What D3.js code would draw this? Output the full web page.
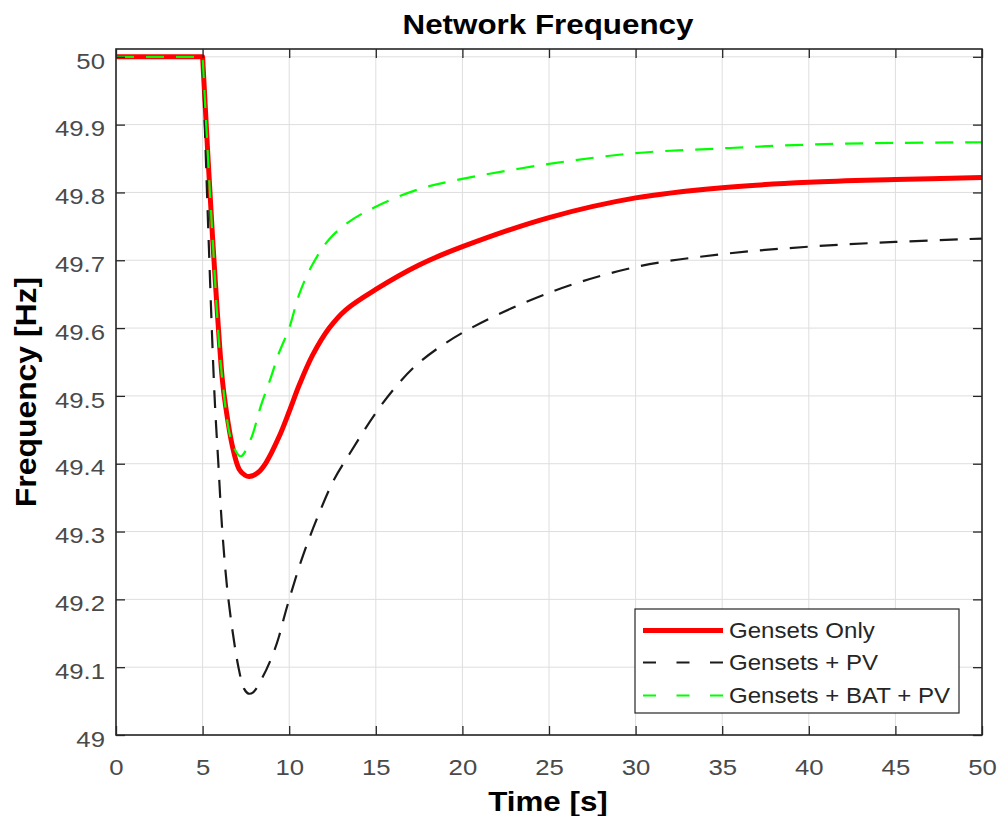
<!DOCTYPE html>
<html>
<head>
<meta charset="utf-8">
<script src="https://cdn.jsdelivr.net/npm/d3@7"></script>
<style>
  body { margin: 0; background: #fff; }
  text { font-family: "Liberation Sans", Arial, Helvetica, sans-serif; }
</style>
</head>
<body>
<div id="chart"></div>
<script>
// series
const timeOnly = [0, 5, 5.57, 6.14, 6.34, 6.72, 7.11, 7.45, 7.69, 8.2, 8.65, 9.42, 10, 10.58, 11.35, 12.31, 13.27, 15, 17.5, 20, 25, 30, 35, 40, 45, 50];
const freqOnly = [50, 50, 49.736, 49.524, 49.483, 49.426, 49.392, 49.383, 49.381, 49.387, 49.401, 49.44, 49.477, 49.516, 49.56, 49.6, 49.627, 49.657, 49.693, 49.72, 49.763, 49.792, 49.807, 49.815, 49.819, 49.822];

const timePV = [0, 5, 5.34, 5.69, 5.91, 6.14, 6.49, 7.07, 7.4, 7.65, 7.92, 8.46, 9.03, 9.42, 9.71, 10, 10.8, 11.73, 12.6, 13.47, 15, 16.17, 17.5, 20, 25, 30, 35, 40, 45, 50];
const freqPV = [50, 50, 49.736, 49.5, 49.4, 49.3, 49.2, 49.1, 49.068, 49.061, 49.063, 49.085, 49.117, 49.146, 49.174, 49.2, 49.265, 49.327, 49.377, 49.414, 49.475, 49.514, 49.549, 49.593, 49.652, 49.69, 49.709, 49.72, 49.727, 49.732];

const timeBAT = [0, 5, 5.57, 6.14, 6.72, 7.2, 7.78, 8.36, 8.94, 9.42, 10, 10.58, 11.35, 12.31, 13.47, 15, 17.5, 20, 25, 30, 35, 40, 45, 50];
const freqBAT = [50, 50, 49.736, 49.524, 49.43, 49.411, 49.436, 49.485, 49.527, 49.564, 49.6, 49.65, 49.694, 49.731, 49.757, 49.779, 49.805, 49.82, 49.842, 49.858, 49.865, 49.8705, 49.873, 49.874];

const seriesNames = ["Gensets Only", "Gensets + PV", "Gensets + BAT + PV"];
const stepTime = 5; // the disturbance: curves are flat before it
const xTicks = [0, 5, 10, 15, 20, 25, 30, 35, 40, 45, 50];
const yTicks = [49, 49.1, 49.2, 49.3, 49.4, 49.5, 49.6, 49.7, 49.8, 49.9, 50];
const yTickLabels = ["49", "49.1", "49.2", "49.3", "49.4", "49.5", "49.6", "49.7", "49.8", "49.9", "50"];

const W = 999, H = 816;
const SX = 1.12; // the reference text runs a bit wider than Arial
const box = { left: 116, right: 982, top: 49, bottom: 735 };
const axisColor = "#262626";

const svg = d3.select("#chart").append("svg")
  .attr("width", W)
  .attr("height", H);

svg.append("rect").attr("width", W).attr("height", H).attr("fill", "#fff");

const x = d3.scaleLinear().domain([0, 50]).range([box.left, box.right]);
const y = d3.scaleLinear().domain([49, 50.0115]).range([box.bottom, box.top]);

// grid
const grid = svg.append("g").attr("stroke", "#dedede").attr("stroke-width", 1);
grid.selectAll(".gx").data(xTicks).enter().append("line")
  .attr("x1", d => x(d)).attr("x2", d => x(d))
  .attr("y1", box.top).attr("y2", box.bottom);
grid.selectAll(".gy").data(yTicks).enter().append("line")
  .attr("x1", box.left).attr("x2", box.right)
  .attr("y1", d => y(d)).attr("y2", d => y(d));

// curves
const series = [
  { t: timeOnly, f: freqOnly, color: "#ff0000", width: 5, dash: null, legendDash: null },
  { t: timePV, f: freqPV, color: "#1a1a1a", width: 2.2, dash: "18,12", legendDash: "13,20.5" },
  { t: timeBAT, f: freqBAT, color: "#00ff00", width: 2.2, dash: "18,12", legendDash: "13,20.5" },
];

const lineFlat = d3.line().x(d => x(d[0])).y(d => y(d[1]));
const lineSmooth = d3.line().x(d => x(d[0])).y(d => y(d[1])).curve(d3.curveCatmullRom.alpha(0.5));

// straight before the step, smooth after it, as one subpath so dashes run on
function curvePath(pts) {
  const before = pts.filter(p => p[0] <= stepTime);
  const after = pts.filter(p => p[0] >= stepTime);
  return lineFlat(before) + "L" + lineSmooth(after).slice(1);
}

const plot = svg.append("g");
series.forEach(s => {
  plot.append("path")
    .attr("d", curvePath(d3.zip(s.t, s.f)))
    .attr("fill", "none")
    .attr("stroke", s.color)
    .attr("stroke-width", s.width)
    .attr("stroke-linejoin", "round")
    .attr("stroke-dasharray", s.dash);
});

// axes (ticks point inward on all four sides)
const xAxisBottom = svg.append("g")
  .attr("transform", "translate(0," + box.bottom + ")")
  .call(d3.axisBottom(x).tickValues(xTicks).tickSizeInner(-9).tickSizeOuter(0));
xAxisBottom.selectAll("text")
  .attr("y", 0).attr("dy", null)
  .attr("transform", "translate(0,40) scale(" + SX + ",1)");

const yAxisLeft = svg.append("g")
  .attr("transform", "translate(" + box.left + ",0)")
  .call(d3.axisLeft(y).tickValues(yTicks).tickFormat((d, i) => yTickLabels[i]).tickSizeInner(-9).tickSizeOuter(0));
yAxisLeft.selectAll("text")
  .attr("x", 0).attr("dy", "0.49em")
  .attr("transform", "translate(-11,0) scale(" + SX + ",1)");

svg.append("g")
  .attr("transform", "translate(0," + box.top + ")")
  .call(d3.axisTop(x).tickValues(xTicks).tickSizeInner(-9).tickSizeOuter(0).tickFormat(""));
svg.append("g")
  .attr("transform", "translate(" + box.right + ",0)")
  .call(d3.axisRight(y).tickValues(yTicks).tickSizeInner(-9).tickSizeOuter(0).tickFormat(""));

svg.selectAll(".domain").remove();
svg.selectAll(".tick line").attr("stroke", axisColor).attr("stroke-width", 1.3);
svg.selectAll(".tick text")
  .attr("fill", "#4a4a4a")
  .style("font-size", "23px")
  .style("font-family", "'Liberation Sans', Arial, sans-serif");

svg.append("rect")
  .attr("x", box.left).attr("y", box.top)
  .attr("width", box.right - box.left).attr("height", box.bottom - box.top)
  .attr("fill", "none")
  .attr("stroke", axisColor)
  .attr("stroke-width", 1.6);

// title and axis labels
svg.append("text")
  .attr("transform", "translate(548,34) scale(" + SX + ",1)")
  .attr("text-anchor", "middle")
  .style("font-size", "28px").style("font-weight", "bold")
  .attr("fill", "#000")
  .text("Network Frequency");

svg.append("text")
  .attr("transform", "translate(548,811) scale(" + SX + ",1)")
  .attr("text-anchor", "middle")
  .style("font-size", "28px").style("font-weight", "bold")
  .attr("fill", "#000")
  .text("Time [s]");

svg.append("text")
  .attr("transform", "translate(36,392) rotate(-90) scale(1.1,1)")
  .attr("text-anchor", "middle")
  .style("font-size", "29px").style("font-weight", "bold")
  .attr("fill", "#000")
  .text("Frequency [Hz]");

// legend
const legend = svg.append("g").attr("transform", "translate(635,609)");
legend.append("rect")
  .attr("width", 324).attr("height", 104)
  .attr("fill", "#fff")
  .attr("stroke", axisColor).attr("stroke-width", 1.2);

const rowY = [29, 61, 94];
series.forEach((s, i) => {
  legend.append("line")
    .attr("x1", 8).attr("x2", 88)
    .attr("y1", rowY[i] - 7.5).attr("y2", rowY[i] - 7.5)
    .attr("stroke", s.color)
    .attr("stroke-width", s.width)
    .attr("stroke-dasharray", s.legendDash);
  legend.append("text")
    .attr("transform", "translate(94," + rowY[i] + ") scale(" + SX + ",1)")
    .style("font-size", "21.5px")
    .attr("fill", axisColor)
    .text(seriesNames[i]);
});
</script>
</body>
</html>
